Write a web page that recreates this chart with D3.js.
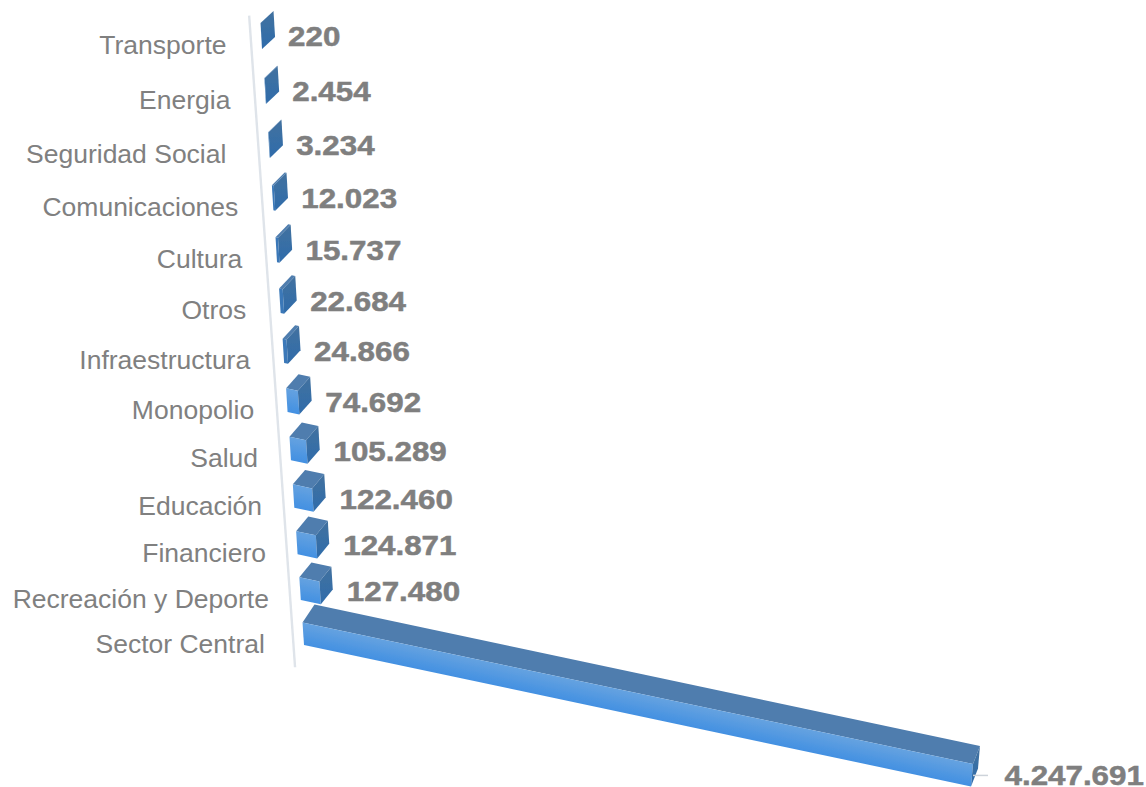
<!DOCTYPE html>
<html>
<head>
<meta charset="utf-8">
<script src="https://cdnjs.cloudflare.com/ajax/libs/d3/7.8.5/d3.min.js"></script>
<style>
  html, body { margin: 0; padding: 0; background: #fff; }
  svg { display: block; }
</style>
</head>
<body>
<svg id="chart" width="1146" height="787"></svg>
<script>
const categories = ['Transporte', 'Energia', 'Seguridad Social', 'Comunicaciones', 'Cultura', 'Otros',
  'Infraestructura', 'Monopolio', 'Salud', 'Educación', 'Financiero', 'Recreación y Deporte', 'Sector Central'];
const values = [220, 2454, 3234, 12023, 15737, 22684, 24866, 74692, 105289, 122460, 124871, 127480, 4247691];
const valueLabels = ['220', '2.454', '3.234', '12.023', '15.737', '22.684', '24.866', '74.692', '105.289',
  '122.460', '124.871', '127.480', '4.247.691'];

const svg = d3.select('#chart');
const defs = svg.append('defs');

const row = d3.scalePoint().domain(categories).range([0, 12]);
const len = d3.scaleLinear().domain([0, 4247691]).range([0, 667]);
const height = d3.scaleLinear().domain([0, 12]).range([26, 22.5]);

// rows get closer together towards the bottom, the picture is in perspective
function rowY(v) { return (55.77 * v + 49) / (0.00946 * v + 1); }
function rowX(y) { return 262 + (y - 49) * 42 / 596; }
const slope = 0.212;

function corners(d) {
  const v = row(d.cat);
  const y = rowY(v), x = rowX(y), h = height(v), w = len(d.value);
  const t = w / 667;
  const dx = 13 - v / 12 - 5 * t, dy = -12 - v / 4 - 3 * t;
  const fl = [x, y], fr = [x + w, y + w * slope];
  const tl = [x - 1.5, y - h], tr = [x + w - 1.5 + 3.5 * t, y + w * slope - h];
  return { fl, fr, tl, tr, dx, dy, h, w, x, y };
}

const rows = categories.map((c, i) => ({ cat: c, value: values[i], label: valueLabels[i] }));
rows.forEach(d => { d.c = corners(d); });

const blur = defs.append('filter').attr('id', 'soft').attr('x', '-10%').attr('y', '-10%').attr('width', '120%').attr('height', '120%');
blur.append('feGaussianBlur').attr('stdDeviation', 0.5);

// the gradient runs across the bar, not down the page
rows.forEach((d, i) => {
  const k = d.c.h / (1 + slope * slope);
  const g = defs.append('linearGradient').attr('id', 'front' + i).attr('gradientUnits', 'userSpaceOnUse')
    .attr('x1', d.c.tl[0]).attr('y1', d.c.tl[1])
    .attr('x2', d.c.tl[0] - slope * k).attr('y2', d.c.tl[1] + k);
  g.append('stop').attr('offset', 0).attr('stop-color', '#65a2e0');
  g.append('stop').attr('offset', 1).attr('stop-color', '#4290e2');
});
const side = defs.append('linearGradient').attr('id', 'side').attr('x1', 0).attr('y1', 0).attr('x2', 0).attr('y2', 1);
side.append('stop').attr('offset', 0).attr('stop-color', '#42719f');
side.append('stop').attr('offset', 1).attr('stop-color', '#2f6cab');

// axis wall line
const axisEnds = [-0.6, 12.5].map(v => [rowX(rowY(v)) - 10.5, rowY(v)]);
svg.append('line')
  .attr('x1', axisEnds[0][0]).attr('y1', axisEnds[0][1])
  .attr('x2', axisEnds[1][0]).attr('y2', axisEnds[1][1])
  .attr('stroke', '#dfe4ea').attr('stroke-width', 2.4);

const pts = a => a.map(p => p.join(',')).join(' ');
const bars = svg.append('g').attr('filter', 'url(#soft)').selectAll('g').data(rows).join('g');

bars.append('polygon') // top
  .attr('points', d => {
    const c = d.c;
    return pts([c.tl, c.tr, [c.tr[0] + c.dx, c.tr[1] + c.dy], [c.tl[0] + 13 - row(d.cat) / 12, c.tl[1] + c.dy]]);
  })
  .attr('fill', '#4f7dae');
bars.append('polygon') // front, the thin bars hardly show a lit face
  .attr('points', d => pts([d.c.tl, d.c.tr, d.c.fr, d.c.fl]))
  .attr('fill', (d, i) => d.c.w < 6 ? '#3a78b8' : 'url(#front' + i + ')');
bars.append('polygon') // end of the bar
  .attr('points', d => {
    const c = d.c;
    return pts([c.tr, [c.tr[0] + c.dx, c.tr[1] + c.dy], [c.fr[0] + c.dx, c.fr[1] + c.dy], c.fr]);
  })
  .attr('fill', 'url(#side)');

// category labels
const labelNudge = { 'Seguridad Social': -8, 'Sector Central': -9, 'Recreación y Deporte': -1 };
svg.append('g').selectAll('text').data(rows).join('text')
  .attr('x', d => 226.5 + 3.95 * row(d.cat) + (labelNudge[d.cat] || 0))
  .attr('y', d => d.c.y + 4.5 + row(d.cat) * 0.3)
  .attr('text-anchor', 'end')
  .attr('font-family', '"Liberation Sans", Arial, sans-serif')
  .attr('font-size', 26.5)
  .attr('fill', '#808080')
  .text(d => d.cat);

// value labels, the originals are stretched sideways
svg.append('g').selectAll('text').data(rows).join('text')
  .attr('transform', d => {
    const big = d.value > 1000000;
    const x = d.c.x + d.c.w + 26 + (big ? 7.5 : 0);
    const y = d.c.y + d.c.w * slope - 3 + (big ? 1.5 : 0);
    return 'translate(' + x + ',' + y + ') scale(1.14,1)';
  })
  .attr('font-family', '"Liberation Sans", Arial, sans-serif')
  .attr('font-weight', 'bold')
  .attr('font-size', 27.5)
  .attr('fill', '#7f7f7f')
  .attr('stroke', '#7f7f7f')
  .attr('stroke-width', 0.5)
  .text(d => d.label);

// leader line for the long bar
const last = rows[rows.length - 1].c;
svg.append('line')
  .attr('x1', last.fr[0] + 2).attr('x2', last.fr[0] + 17)
  .attr('y1', last.fr[1] - 11).attr('y2', last.fr[1] - 11)
  .attr('stroke', '#cdd3da').attr('stroke-width', 1.5);
</script>
</body>
</html>
